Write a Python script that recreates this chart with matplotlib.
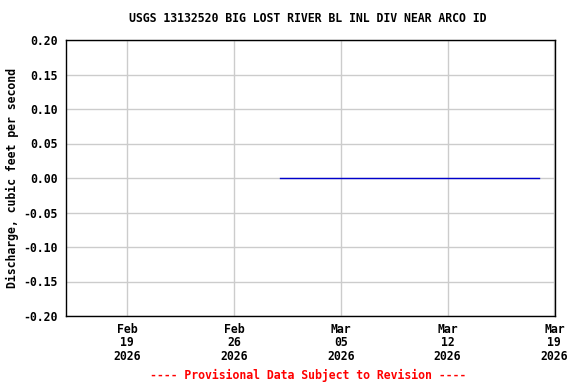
import matplotlib
matplotlib.use("Agg")
import matplotlib.pyplot as plt
import datetime as dt

title = "USGS 13132520 BIG LOST RIVER BL INL DIV NEAR ARCO ID"
ylabel = "Discharge, cubic feet per second"
footer = "---- Provisional Data Subject to Revision ----"

dates = [dt.datetime(2026, 3, d) for d in range(1, 19)]
values = [0.0] * len(dates)

tick_dates = [dt.datetime(2026, 2, 19), dt.datetime(2026, 2, 26), dt.datetime(2026, 3, 5),
              dt.datetime(2026, 3, 12), dt.datetime(2026, 3, 19)]
tick_labels = ["Feb\n19\n2026", "Feb\n26\n2026", "Mar\n05\n2026", "Mar\n12\n2026", "Mar\n19\n2026"]
yticks = [-0.20, -0.15, -0.10, -0.05, 0.00, 0.05, 0.10, 0.15, 0.20]

font = {"family": "DejaVu Sans Mono", "weight": "bold", "size": 8.3}

fig = plt.figure(figsize=(5.76, 3.84), dpi=100)
ax = fig.add_axes([66/576, 1 - 316/384, (555-66)/576, (316-40)/384])
ax.plot(dates, values, color="#0000cc", lw=1.0)
ax.set_xlim(dt.datetime(2026, 2, 15), dt.datetime(2026, 3, 19, 1))
ax.set_ylim(-0.20, 0.20)
ax.set_xticks(tick_dates)
ax.set_xticklabels(tick_labels, fontdict=font, linespacing=1.05)
ax.set_yticks(yticks)
ax.set_yticklabels([f"{v:.2f}" for v in yticks], fontdict=font)
ax.tick_params(length=0, pad=6)
ax.tick_params(axis="x", pad=5)
ax.grid(True, color="#cccccc", lw=1)
ax.set_axisbelow(True)
for s in ax.spines.values():
    s.set_linewidth(1)
    s.set_color("black")
fig.text(308/576, 1 - 19/384, title, ha="center", va="center", **font)
fig.text(12/576, 1 - 178/384, ylabel, ha="center", va="center", rotation=90, **font)
fig.text(308/576, 1 - 375/384, footer, ha="center", va="center", color="red", **font)
fig.savefig("out.png", dpi=100)
